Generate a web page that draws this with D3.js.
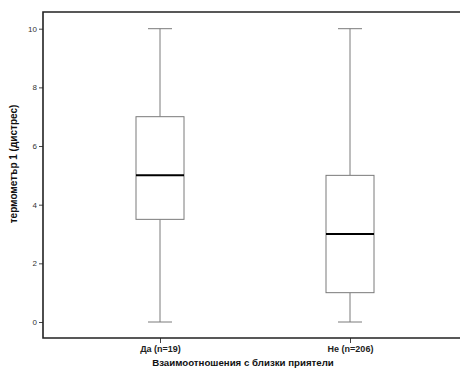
<!DOCTYPE html>
<html>
<head>
<meta charset="utf-8">
<script src="https://cdn.jsdelivr.net/npm/d3@7"></script>
<style>
  html, body { margin: 0; padding: 0; background: #fff; }
  svg { display: block; }
</style>
</head>
<body>
<svg id="chart" width="460" height="374"></svg>
<script>
// Boxplot summary per group
const categories = ["Да (n=19)", "Не (n=206)"];
const whiskerLow = [0, 0];
const q1Values = [3.5, 1];
const medians = [5, 3];
const q3Values = [7, 5];
const whiskerHigh = [10, 10];
const yTicks = [0, 2, 4, 6, 8, 10];

const yLabel = "термометър 1 (дистрес)";
const xLabel = "Взаимоотношения с близки приятели";

(function () {
  const svg = d3.select("#chart");
  const font = "Arial, 'Liberation Sans', sans-serif";

  const plotLeft = 43, plotRight = 470, plotTop = 12, plotBottom = 338;

  const x = d3.scalePoint().domain(categories).range([160, 350]);
  const y = d3.scaleLinear().domain([0, 10]).range([322, 28.7]);

  const boxW = 48, capW = 24;
  const grey = "#7a7a7a";

  const groups = categories.map((c, i) => ({
    c, lo: whiskerLow[i], q1: q1Values[i], med: medians[i], q3: q3Values[i], hi: whiskerHigh[i]
  }));

  const g = svg.append("g");

  groups.forEach(d => {
    const cx = x(d.c);
    // whiskers
    g.append("line").attr("x1", cx).attr("x2", cx).attr("y1", y(d.hi)).attr("y2", y(d.q3))
      .attr("stroke", grey).attr("stroke-width", 1);
    g.append("line").attr("x1", cx).attr("x2", cx).attr("y1", y(d.q1)).attr("y2", y(d.lo))
      .attr("stroke", grey).attr("stroke-width", 1);
    // caps
    [d.hi, d.lo].forEach(v => {
      g.append("line").attr("x1", cx - capW / 2).attr("x2", cx + capW / 2)
        .attr("y1", y(v)).attr("y2", y(v)).attr("stroke", grey).attr("stroke-width", 1);
    });
    // box
    g.append("rect").attr("x", cx - boxW / 2).attr("y", y(d.q3))
      .attr("width", boxW).attr("height", y(d.q1) - y(d.q3))
      .attr("fill", "#fff").attr("stroke", grey).attr("stroke-width", 1);
    // median
    g.append("line").attr("x1", cx - boxW / 2).attr("x2", cx + boxW / 2)
      .attr("y1", y(d.med)).attr("y2", y(d.med)).attr("stroke", "#000").attr("stroke-width", 2);
  });

  // Y axis
  const yAxis = d3.axisLeft(y).tickValues(yTicks).tickSize(4).tickPadding(2).tickSizeOuter(0);
  const ya = svg.append("g").attr("transform", `translate(${plotLeft},0)`).call(yAxis);
  ya.select(".domain").remove();
  ya.selectAll(".tick line").attr("stroke", "#444");
  ya.selectAll(".tick text").attr("font-family", font).attr("font-size", 8).attr("fill", "#333");

  // X axis
  const xAxis = d3.axisBottom(x).tickSize(5).tickPadding(3).tickSizeOuter(0);
  const xa = svg.append("g").attr("transform", `translate(0,${plotBottom})`).call(xAxis);
  xa.select(".domain").remove();
  xa.selectAll(".tick line").attr("stroke", "#444");
  xa.selectAll(".tick text").attr("font-family", font).attr("font-size", 9)
    .attr("font-weight", "bold").attr("fill", "#222");

  // Frame: left, top, bottom
  svg.append("path")
    .attr("d", `M${plotRight},${plotTop}H${plotLeft}V${plotBottom}H${plotRight}`)
    .attr("fill", "none").attr("stroke", "#222").attr("stroke-width", 1.6);

  // Axis titles
  svg.append("text").attr("x", 243).attr("y", 366)
    .attr("text-anchor", "middle").attr("font-family", font).attr("font-size", 9.7)
    .attr("font-weight", "bold").attr("fill", "#111").text(xLabel);

  svg.append("text").attr("transform", `translate(17,164) rotate(-90)`)
    .attr("text-anchor", "middle").attr("font-family", font).attr("font-size", 10)
    .attr("font-weight", "bold").attr("fill", "#111").text(yLabel);
})();
</script>
</body>
</html>
